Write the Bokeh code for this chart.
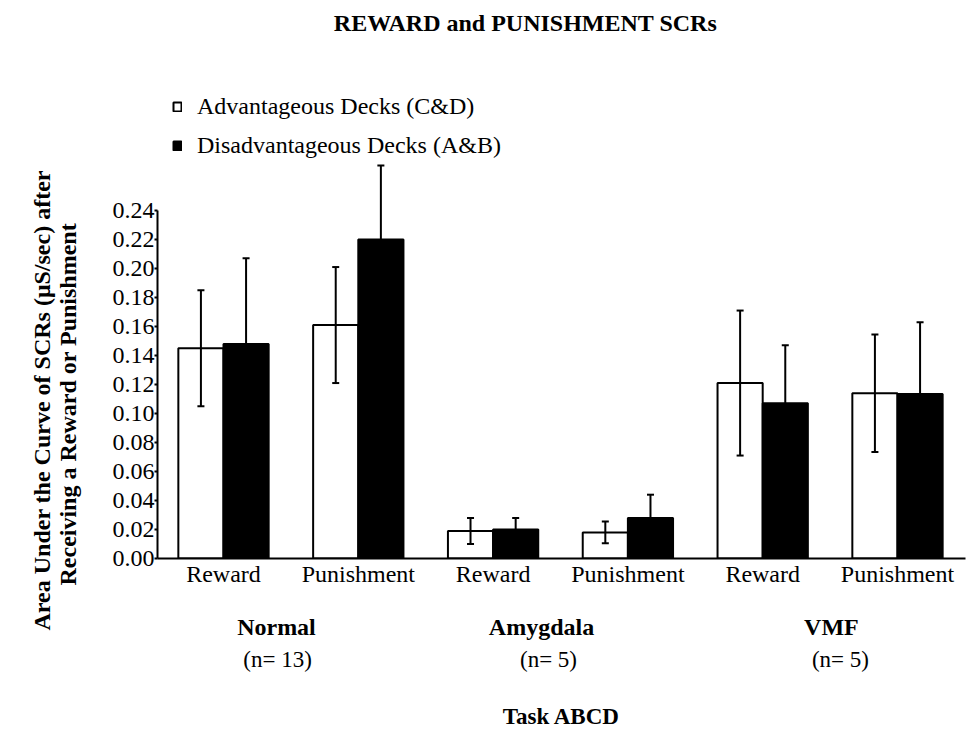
from bokeh.plotting import figure
from bokeh.models import (Range1d, FixedTicker, NumeralTickFormatter, Label, Title,
                          Legend, LegendItem, ColumnDataSource, LinearAxis)
from bokeh.embed import file_html
from bokeh.resources import INLINE

# ---------------- data ----------------
categories = ["Reward", "Punishment", "Reward", "Punishment", "Reward", "Punishment"]
groups = ["Normal", "Amygdala", "VMF"]
group_n = ["(n= 13)", "(n= 5)", "(n= 5)"]
adv = [0.145, 0.161, 0.019, 0.018, 0.121, 0.114]          # Advantageous Decks (C&D)
adv_err = [0.040, 0.040, 0.009, 0.0075, 0.050, 0.0405]
dis = [0.148, 0.220, 0.020, 0.028, 0.107, 0.1135]         # Disadvantageous Decks (A&B)
dis_err = [0.059, 0.051, 0.008, 0.016, 0.040, 0.0495]
y_ticks = [0.00, 0.02, 0.04, 0.06, 0.08, 0.10, 0.12, 0.14, 0.16, 0.18, 0.20, 0.22, 0.24]

FONT = "Liberation Serif"

pos = list(range(len(categories)))
half = 0.1675
bw = 0.335
adv_x = [p_ - half for p_ in pos]
dis_x = [p_ + half for p_ in pos]

p = figure(width=974, height=731, output_backend="svg", toolbar_location=None,
           title=None,
           x_range=Range1d(-0.4896, 5.5045), y_range=Range1d(0, 558 / 1450),
           min_border_left=157, min_border_right=9, min_border_top=0,
           min_border_bottom=173)
p.outline_line_color = None
p.grid.visible = False
p.background_fill_color = "white"

src_a = ColumnDataSource(dict(x=adv_x, top=adv))
src_d = ColumnDataSource(dict(x=dis_x, top=dis))
ra = p.vbar(x="x", top="top", width=bw, bottom=0, source=src_a,
            fill_color="white", line_color="black", line_width=2)
rd = p.vbar(x="x", top="top", width=bw, bottom=0, source=src_d,
            fill_color="black", line_color="black", line_width=2)

# error bars: advantageous symmetric, disadvantageous upward only
cap = 0.026
a_lo = [v - e for v, e in zip(adv, adv_err)]
a_hi = [v + e for v, e in zip(adv, adv_err)]
d_hi = [v + e for v, e in zip(dis, dis_err)]
p.segment(x0=adv_x, y0=a_lo, x1=adv_x, y1=a_hi, line_color="black", line_width=2)
p.segment(x0=[x - cap for x in adv_x], y0=a_lo, x1=[x + cap for x in adv_x], y1=a_lo,
          line_color="black", line_width=2)
p.segment(x0=[x - cap for x in adv_x], y0=a_hi, x1=[x + cap for x in adv_x], y1=a_hi,
          line_color="black", line_width=2)
p.segment(x0=dis_x, y0=dis, x1=dis_x, y1=d_hi, line_color="black", line_width=2)
p.segment(x0=[x - cap for x in dis_x], y0=d_hi, x1=[x + cap for x in dis_x], y1=d_hi,
          line_color="black", line_width=2)


def dx(px):
    return (px - 223) / 134.8


def dy(py):
    return (558 - py) / 1450


# ---------- y axis ----------
yax = p.yaxis[0]
yax.ticker = FixedTicker(ticks=y_ticks)
yax.formatter = NumeralTickFormatter(format="0.00")
yax.bounds = (0, 0.24)
yax.axis_line_width = 2
yax.major_tick_line_width = 2
yax.major_tick_in = 0
yax.major_tick_out = 3
yax.minor_tick_line_color = None
yax.major_label_standoff = 0
yax.major_label_text_font = FONT
yax.major_label_text_font_size = "24px"
yax.major_label_text_color = "black"

# y-axis title: two lines as side titles
for txt, off, stand in (("Receiving a Reward or Punishment", -27, 58),
                        ("Area Under the Curve of  SCRs (\u03bcS/sec) after", -72, -62)):
    p.add_layout(Title(text=txt, align="left", offset=off, standoff=stand,
                       text_font=FONT, text_font_size="24px", text_font_style="bold",
                       text_color="black"), "left")

# ---------- x axes ----------
xax = p.xaxis[0]
xax.ticker = FixedTicker(ticks=pos)
xax.major_label_overrides = {i: c for i, c in enumerate(categories)}
xax.axis_line_width = 2
xax.major_tick_line_color = None
xax.minor_tick_line_color = None
xax.major_tick_out = 0
xax.major_tick_in = 0
xax.major_label_standoff = 2
xax.major_label_text_font = FONT
xax.major_label_text_font_size = "24px"
xax.major_label_text_color = "black"

grp_ticks = [round(dx(v), 3) for v in (276, 541, 831)]
n_ticks = [round(dx(v), 3) for v in (277, 548, 840)]

gax = LinearAxis(ticker=FixedTicker(ticks=grp_ticks),
                 major_label_overrides={t: g for t, g in zip(grp_ticks, groups)},
                 axis_line_color=None, major_tick_line_color=None,
                 minor_tick_line_color=None, major_tick_out=0, major_tick_in=0,
                 major_label_standoff=24, major_label_text_font=FONT,
                 major_label_text_font_size="24px", major_label_text_font_style="bold",
                 major_label_text_color="black")
p.add_layout(gax, "below")

nax = LinearAxis(ticker=FixedTicker(ticks=n_ticks),
                 major_label_overrides={t: n for t, n in zip(n_ticks, group_n)},
                 axis_line_color=None, major_tick_line_color=None,
                 minor_tick_line_color=None, major_tick_out=0, major_tick_in=0,
                 major_label_standoff=4, major_label_text_font=FONT,
                 major_label_text_font_size="23px", major_label_text_color="black",
                 axis_label="Task ABCD", axis_label_text_font=FONT,
                 axis_label_text_font_size="23px", axis_label_text_font_style="bold",
                 axis_label_text_color="black", axis_label_standoff=29)
p.add_layout(nax, "below")

# ---------- title ----------
p.add_layout(Label(x=dx(525), y=dy(22), text="REWARD and PUNISHMENT SCRs",
                   text_font=FONT, text_font_size="24px", text_font_style="bold",
                   text_align="center", text_baseline="alphabetic", text_color="black"))

# ---------- legend ----------
legend = Legend(items=[LegendItem(label="Advantageous Decks (C&D)", renderers=[ra]),
                       LegendItem(label="Disadvantageous Decks (A&B)", renderers=[rd])],
                location=(15, 399), orientation="vertical",
                glyph_width=10, glyph_height=11, label_standoff=15,
                label_height=25, spacing=12, padding=0, margin=0,
                border_line_color=None, background_fill_alpha=0,
                label_text_font=FONT, label_text_font_size="24px",
                label_text_color="black")
p.add_layout(legend)

open("out.html", "w").write(file_html(p, INLINE))
